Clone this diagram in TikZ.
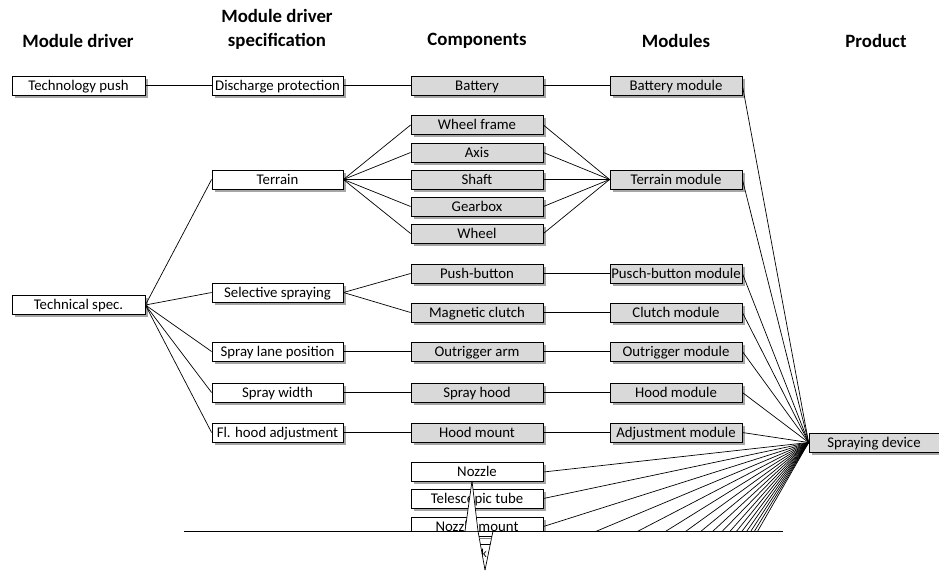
\documentclass[tikz,border=0pt]{standalone}
\usepackage{fontspec}
\setmainfont{Carlito}
\usetikzlibrary{shadows}
\definecolor{boxgray}{HTML}{D9D9D9}
\begin{document}
\begin{tikzpicture}[x=1pt,y=-1pt,
 box/.style={draw=black, line width=0.8pt, minimum width=132pt, minimum height=19pt, inner sep=0pt,
   text height=11.8pt, text depth=2pt,
   font=\fontsize{14.8}{16}\selectfont,
   drop shadow={shadow xshift=2.5pt, shadow yshift=-2.5pt, opacity=0.35, fill=black}},
 wbox/.style={box, fill=white},
 gbox/.style={box, fill=boxgray},
 head/.style={font=\bfseries\fontsize{18.8}{24}\selectfont, align=center},
 conn/.style={line width=0.7pt}]
\useasboundingbox (0,0) rectangle (939,571);

% headers
\node[head] (h1) at (78,41) {Module driver};
\node[head] (h2) at (277,29) {Module driver\\specification};
\node[head] (h3) at (477,41) {Components};
\node[head] (h4) at (676,41) {Modules};
\node[head] (h5) at (876,41) {Product};

% column 1
\node[wbox, minimum width=133pt] (tp) at (78.5,85.5) {Technology push};
\node[wbox, minimum width=133pt] (ts) at (78.5,305) {Technical spec.};

% column 2
\node[wbox, minimum width=131pt] (dp) at (277.5,85.5) {Discharge protection};
\node[wbox, minimum width=131pt] (te) at (277.5,179.5) {Terrain};
\node[wbox, minimum width=131pt] (ss) at (277.5,292.5) {Selective spraying};
\node[wbox, minimum width=131pt] (sl) at (277.5,351.5) {Spray lane position};
\node[wbox, minimum width=131pt] (sw) at (277.5,392.5) {Spray width};
\node[wbox, minimum width=131pt] (fh) at (277.5,432.5) {Fl. hood adjustment};

% column 3
\node[gbox] (ba) at (477,85.5) {Battery};
\node[gbox] (wf) at (477,125) {Wheel frame};
\node[gbox] (ax) at (477,152.5) {Axis};
\node[gbox] (sh) at (477,179.5) {Shaft};
\node[gbox] (gb) at (477,206.5) {Gearbox};
\node[gbox] (wh) at (477,233.5) {Wheel};
\node[gbox] (pb) at (477,273.5) {Push-button};
\node[gbox] (mc) at (477,312.5) {Magnetic clutch};
\node[gbox] (oa) at (477,351.5) {Outrigger arm};
\node[gbox] (sph) at (477,392.5) {Spray hood};
\node[gbox] (hm) at (477,432.5) {Hood mount};
\node[wbox] (nz) at (477,472) {Nozzle};
\node[wbox] (tt) at (477,498.5) {Telescopic tube};
\begin{scope}
  \clip (0,0) rectangle (939,531);
  \node[wbox] (nm) at (477,526.5) {Nozzle mount};
\end{scope}

% column 4
\node[gbox] (bm) at (676,85.5) {Battery module};
\node[gbox] (tm) at (676,179.5) {Terrain module};
\node[gbox] (pm) at (676,273.5) {Pusch-button module};
\node[gbox] (cm) at (676,312.5) {Clutch module};
\node[gbox] (om) at (676,351.5) {Outrigger module};
\node[gbox] (hom) at (676,392.5) {Hood module};
\node[gbox] (am) at (676,432.5) {Adjustment module};

% product
\node[gbox, minimum width=130pt] (sd) at (874,442.5) {Spraying device};

% connectors
\draw[conn] (tp.east) -- (dp.west);
\draw[conn] (dp.east) -- (ba.west);
\draw[conn] (ba.east) -- (bm.west);
\foreach \t in {te,ss,sl,sw,fh} \draw[conn] (ts.east) -- (\t.west);
\foreach \t in {wf,ax,sh,gb,wh} {
  \draw[conn] (te.east) -- (\t.west);
  \draw[conn] (\t.east) -- (tm.west);
}
\draw[conn] (ss.east) -- (pb.west);
\draw[conn] (ss.east) -- (mc.west);
\draw[conn] (pb.east) -- (pm.west);
\draw[conn] (mc.east) -- (cm.west);
\draw[conn] (sl.east) -- (oa.west);
\draw[conn] (oa.east) -- (om.west);
\draw[conn] (sw.east) -- (sph.west);
\draw[conn] (sph.east) -- (hom.west);
\draw[conn] (fh.east) -- (hm.west);
\draw[conn] (hm.east) -- (am.west);
\foreach \m in {bm,tm,pm,cm,om,hom,am,nz,tt,nm} \draw[conn] (\m.east) -- (sd.west);
\begin{scope}
  \clip (0,0) rectangle (939,531);
  \foreach \k in {1,...,14} {
    \coordinate (hid\k) at (543,{526.5+27*\k});
    \draw[conn] (sd.west) -- (hid\k);
  }
\end{scope}

% cut-off line
\coordinate (cutL) at (184,531);
\coordinate (cutR) at (783,531);
\draw[conn] (cutL) -- (cutR);

% tear
\coordinate (tA) at (472,481);
\coordinate (tB) at (465,531);
\coordinate (tC) at (478,531);
\coordinate (tD) at (493,531);
\coordinate (tE) at (485,570);
\fill[white] (tA) -- (tB) -- (tC) -- cycle;
\draw[conn] (tA) -- (tB);
\draw[conn] (tA) -- (tC) -- (tE);
\draw[conn] (tD) -- (tE);
\begin{scope}
  \clip (tC) -- (tD) -- (tE) -- cycle;
  \draw[line width=0.7pt] (470,536) -- (500,536);
  \draw[gray, line width=1.5pt] (470,538.5) -- (500,538.5);
  \draw[line width=0.7pt] (470,544) -- (500,544);
  \node[font=\fontsize{12}{14}\selectfont, inner sep=0pt] (kk) at (484,553) {k};
\end{scope}
\end{tikzpicture}
\end{document}
